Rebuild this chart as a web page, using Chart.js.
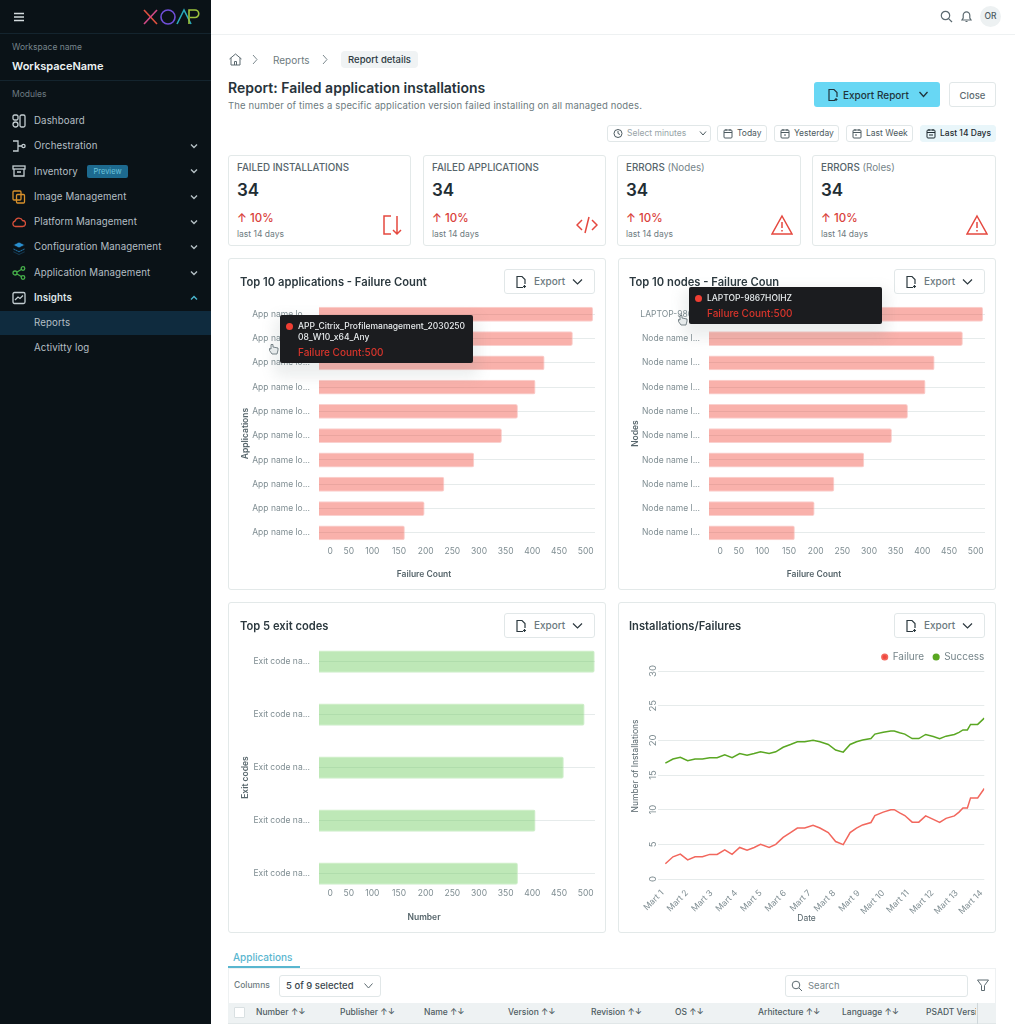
<!DOCTYPE html>
<html>
<head>
<meta charset="utf-8">
<title>Report details</title>
<script src="https://cdn.jsdelivr.net/npm/chart.js@4/dist/chart.umd.min.js"></script>
<style>
html, body { margin: 0; padding: 0; width: 1015px; height: 1024px; overflow: hidden; background: #fff; font-family: Inter, "Noto Sans", sans-serif; color: #1f2a30; }
.abs { position: absolute; white-space: nowrap; }
#sidebar { position: absolute; left: 0; top: 0; width: 211px; height: 1024px; background: #0a1217; }
.side-line { position: absolute; left: 0; width: 211px; height: 1px; background: #14242e; }
.nav { position: absolute; left: 34px; font-size: 9.7px; line-height: 12px; color: #b4bfc4; white-space: nowrap; letter-spacing: .1px; }
.nav-icon { position: absolute; left: 12px; width: 14px; height: 14px; fill: none; stroke: #c3cdd1; stroke-width: 1.3; }
.chev { position: absolute; left: 189px; width: 10px; height: 10px; fill: none; stroke: #b4bfc4; stroke-width: 1.4; }
.card { position: absolute; background: #fff; border: 1px solid #e3e9e9; border-radius: 3px; box-sizing: border-box; }
.stat-title { position: absolute; left: 8px; top: 6px; font-size: 9.8px; color: #56656b; white-space: nowrap; font-weight: 500; }
.stat-title span { font-weight: 400; color: #76858a; }
.stat-num { position: absolute; left: 8px; top: 24px; font-size: 17px; font-weight: 600; color: #222d33; }
.stat-up { position: absolute; left: 8px; top: 55px; font-size: 11.5px; color: #d9403a; font-weight: 500; }
.stat-sub { position: absolute; left: 8px; top: 73px; font-size: 8.5px; color: #6d7b80; }
.stat-icon { position: absolute; right: 7px; bottom: 9px; width: 22px; height: 22px; fill: none; stroke: #e5483f; stroke-width: 1.5; }
.chart-title { position: absolute; font-size: 11.2px; font-weight: 600; color: #2c393f; white-space: nowrap; }
.export { position: absolute; width: 91px; height: 25px; border: 1px solid #e1e7e8; border-radius: 3px; box-sizing: border-box; background: #fff; font-size: 10px; font-weight: 500; color: #6b797e; line-height: 23px; padding-left: 29px; }
.export svg { position: absolute; fill: none; stroke: #2c393f; stroke-width: 1.2; }
.date-btn { position: absolute; top: 125px; height: 17px; border: 1px solid #e1e7e8; border-radius: 3px; box-sizing: border-box; font-size: 8.5px; line-height: 15px; color: #4c5a60; padding-left: 19px; white-space: nowrap; background: #fff; }
.date-btn svg { position: absolute; left: 5px; top: 2px; width: 10px; height: 11px; fill: none; stroke: #4c5a60; stroke-width: 1; }
canvas { position: absolute; }
.tip { position: absolute; background: #1b1c1f; border-radius: 2px; box-sizing: border-box; box-shadow: 0 8px 14px 6px rgba(120,135,135,.14); color: #e8ecee; font-size: 8.5px; line-height: 11px; font-weight: 500; z-index: 5; }
.tip i { position: absolute; width: 7px; height: 7px; border-radius: 50%; background: #ef3e33; }
.tip b { position: absolute; color: #d8352c; font-size: 10px; font-weight: 500; white-space: nowrap; }
.tip span { position: absolute; white-space: nowrap; }
.th { position: absolute; top: 1007px; font-size: 8.5px; color: #4e5c62; white-space: nowrap; font-weight: 500; }
</style>
</head>
<body>

<div id="sidebar">
  <svg class="abs" style="left:13px;top:12px" width="12" height="10" fill="none" stroke="#d4dbde" stroke-width="1.3"><path d="M1 1.5H11M1 5H11M1 8.5H11"/></svg>
  <svg class="abs" style="left:142px;top:8px" width="60" height="18" fill="none" stroke-width="1.6">
    <path d="M2 2L15 16" stroke="#e0503f"/><path d="M15 2L2 16" stroke="#d14a86"/>
    <ellipse cx="26" cy="9" rx="7" ry="7" stroke="#6f4fd8"/>
    <path d="M35 16L42 2L49 16" stroke="#2aa9b8"/>
    <path d="M47 16V2H53A3.6 3.6 0 0 1 53 9.5H48" stroke="#9cc33c"/>
  </svg>
  <div class="side-line" style="top:33px"></div>
  <div class="abs" style="left:12px;top:42px;font-size:8.5px;color:#77858c">Workspace name</div>
  <div class="abs" style="left:12px;top:59px;font-size:11px;font-weight:600;color:#eef2f3">WorkspaceName</div>
  <div class="side-line" style="top:80px"></div>
  <div class="abs" style="left:12px;top:89px;font-size:8.5px;color:#6d7b82">Modules</div>

  <svg class="nav-icon" style="top:114px" viewBox="0 0 14 14"><rect x="1" y="1" width="5" height="5" rx="1.5"/><rect x="1" y="8" width="5" height="5" rx="2.5"/><rect x="8" y="1" width="5" height="12" rx="1.5"/></svg>
  <div class="nav" style="top:115px">Dashboard</div>
  <svg class="nav-icon" style="top:139px" viewBox="0 0 14 14"><path d="M1 2H6V12H1M6 7H10"/><circle cx="11.5" cy="7" r="1.6"/></svg>
  <div class="nav" style="top:140px">Orchestration</div>
  <svg class="chev" style="top:141px" viewBox="0 0 10 10"><path d="M2 3.5L5 6.5L8 3.5"/></svg>
  <svg class="nav-icon" style="top:164px" viewBox="0 0 14 14"><rect x="1" y="2" width="12" height="3"/><path d="M2 5V12H12V5M5 8H9"/></svg>
  <div class="nav" style="top:166px">Inventory</div>
  <div class="abs" style="left:87px;top:165px;width:41px;height:13px;background:#1d6a8f;border-radius:2px;font-size:7.5px;line-height:13px;text-align:center;color:#6cc4dc">Preview</div>
  <svg class="chev" style="top:166px" viewBox="0 0 10 10"><path d="M2 3.5L5 6.5L8 3.5"/></svg>
  <svg class="nav-icon" style="top:190px;stroke:#d9912b" viewBox="0 0 14 14"><rect x="1" y="1" width="8" height="9" rx="1"/><rect x="4.5" y="4.5" width="8" height="8.5" rx="1"/></svg>
  <div class="nav" style="top:191px">Image Management</div>
  <svg class="chev" style="top:192px" viewBox="0 0 10 10"><path d="M2 3.5L5 6.5L8 3.5"/></svg>
  <svg class="nav-icon" style="top:215px;stroke:#d9503a" viewBox="0 0 14 14"><path d="M3.5 11.5A2.8 2.8 0 0 1 3 6A4 4 0 0 1 10.5 5.5A3 3 0 0 1 10.5 11.5Z"/></svg>
  <div class="nav" style="top:216px">Platform Management</div>
  <svg class="chev" style="top:217px" viewBox="0 0 10 10"><path d="M2 3.5L5 6.5L8 3.5"/></svg>
  <svg class="nav-icon" style="top:241px;fill:#2a8fd0;stroke:#0a1217;stroke-width:.8" viewBox="0 0 14 14"><path d="M7 1L13 4L7 7L1 4Z"/><path d="M1 7L7 10L13 7V8.5L7 11.5L1 8.5Z"/><path d="M1 10L7 13L13 10V11L7 14L1 11Z"/></svg>
  <div class="nav" style="top:241px">Configuration Management</div>
  <svg class="chev" style="top:242px" viewBox="0 0 10 10"><path d="M2 3.5L5 6.5L8 3.5"/></svg>
  <svg class="nav-icon" style="top:266px;stroke:#46b04a" viewBox="0 0 14 14"><circle cx="3" cy="7" r="2"/><circle cx="11" cy="2.5" r="1.8"/><circle cx="11" cy="11.5" r="1.8"/><path d="M5 6L9.3 3.5M5 8L9.3 10.5"/></svg>
  <div class="nav" style="top:267px">Application Management</div>
  <svg class="chev" style="top:268px" viewBox="0 0 10 10"><path d="M2 3.5L5 6.5L8 3.5"/></svg>
  <svg class="nav-icon" style="top:291px" viewBox="0 0 14 14"><rect x="1" y="1.5" width="12" height="11" rx="1.5"/><path d="M3 9L6 6L8 7.5L11 4.5"/></svg>
  <div class="nav" style="top:292px;color:#dfe5e8;font-weight:600">Insights</div>
  <svg class="chev" style="top:293px;stroke:#4bb6cf" viewBox="0 0 10 10"><path d="M2 6.5L5 3.5L8 6.5"/></svg>
  <div class="abs" style="left:0;top:311px;width:211px;height:24px;background:#0f2b3e"></div>
  <div class="nav" style="top:317px">Reports</div>
  <div class="nav" style="top:342px">Activitty log</div>
</div>

<!-- top bar -->
<div class="abs" style="left:211px;top:34px;width:804px;height:1px;background:#eef1f2"></div>
<svg class="abs" style="left:940px;top:10px" width="13" height="13" fill="none" stroke="#5c6a70" stroke-width="1.2"><circle cx="5.5" cy="5.5" r="4.2"/><path d="M8.8 8.8L12 12"/></svg>
<svg class="abs" style="left:960px;top:10px" width="13" height="13" fill="none" stroke="#5c6a70" stroke-width="1.2"><path d="M2 10H11L9.8 8V5.2A3.3 3.3 0 0 0 3.2 5.2V8ZM5.5 11.5H7.5"/></svg>
<div class="abs" style="left:980px;top:6px;width:21px;height:21px;border-radius:50%;background:#edf1f2;font-size:8.5px;line-height:21px;text-align:center;color:#4e5c62;font-weight:500">OR</div>

<!-- breadcrumb -->
<svg class="abs" style="left:228px;top:52px" width="15" height="15" fill="none" stroke="#5c6a70" stroke-width="1"><path d="M1.5 7L7.5 2L13.5 7M3 6V13H12V6M6.5 13V9.5H8.5V13"/></svg>
<svg class="abs" style="left:251px;top:54px" width="8" height="11" fill="none" stroke="#7d8a8f" stroke-width="1"><path d="M2 1L6 5.5L2 10"/></svg>
<div class="abs" style="left:273px;top:54px;font-size:10px;color:#6d7b80">Reports</div>
<svg class="abs" style="left:321px;top:54px" width="8" height="11" fill="none" stroke="#7d8a8f" stroke-width="1"><path d="M2 1L6 5.5L2 10"/></svg>
<div class="abs" style="left:341px;top:51px;width:77px;height:17px;background:#f0f3f4;border-radius:4px;font-size:9.5px;line-height:17px;text-align:center;font-weight:500;color:#2c393f">Report details</div>

<div class="abs" style="left:228px;top:79px;font-size:14px;font-weight:600;color:#27333a">Report: Failed application installations</div>
<div class="abs" style="left:228px;top:100px;font-size:9.5px;color:#6d7b80;letter-spacing:.15px">The number of times a specific application version failed installing on all managed nodes.</div>

<div class="abs" style="left:814px;top:82px;width:126px;height:25px;background:#68d7f4;border-radius:3px;font-size:10px;line-height:26px;font-weight:500;color:#20343c;padding-left:29px;box-sizing:border-box">Export Report</div>
<svg class="abs" style="left:827px;top:88px" width="12" height="14" fill="none" stroke="#20343c" stroke-width="1.2"><path d="M8 12.5H2V1.5H7L10 4.5V9M9 10V13M7.5 11.5H10.5"/></svg>
<svg class="abs" style="left:918px;top:90px" width="11" height="9" fill="none" stroke="#20343c" stroke-width="1.3"><path d="M1.5 2L5.5 6.5L9.5 2"/></svg>
<div class="abs" style="left:949px;top:82px;width:47px;height:25px;border:1px solid #e1e7e8;border-radius:3px;box-sizing:border-box;font-size:9.5px;line-height:25px;text-align:center;color:#5c6a70;font-weight:500">Close</div>

<!-- date filters -->
<div class="date-btn" style="left:607px;width:104px;color:#98a4a8"><svg viewBox="0 0 10 11"><circle cx="5" cy="5.5" r="4"/><path d="M5 3V5.5L7 6.5"/></svg>Select minutes<svg style="left:91px;top:4px;width:8px;height:7px" viewBox="0 0 8 7"><path d="M1 1.5L4 5L7 1.5"/></svg></div>
<div class="date-btn" style="left:717px;width:50px"><svg viewBox="0 0 10 11"><rect x="1" y="2" width="8" height="8" rx="1"/><path d="M3 1V3M7 1V3M1 4.5H9"/></svg>Today</div>
<div class="date-btn" style="left:774px;width:65px"><svg viewBox="0 0 10 11"><rect x="1" y="2" width="8" height="8" rx="1"/><path d="M3 1V3M7 1V3M1 4.5H9M4 7H6"/></svg>Yesterday</div>
<div class="date-btn" style="left:846px;width:67px"><svg viewBox="0 0 10 11"><rect x="1" y="2" width="8" height="8" rx="1"/><path d="M3 1V3M7 1V3M1 4.5H9M3 7H5"/></svg>Last Week</div>
<div class="date-btn" style="left:920px;width:76px;background:#e9f6fa;border-color:#e9f6fa;color:#1f2a30;font-weight:500"><svg style="stroke:#1f2a30" viewBox="0 0 10 11"><rect x="1" y="2" width="8" height="8" rx="1"/><path d="M3 1V3M7 1V3M1 4.5H9M3 7H7"/></svg>Last 14 Days</div>

<!-- stat cards -->
<div class="card" style="left:228px;top:155px;width:183px;height:91px">
  <div class="stat-title">FAILED INSTALLATIONS</div><div class="stat-num">34</div><div class="stat-up">↑ 10%</div><div class="stat-sub">last 14 days</div>
  <svg class="stat-icon" viewBox="0 0 22 22"><path d="M10 2H3V20H10M16 2V20M12 16L16 20L20 16"/></svg>
</div>
<div class="card" style="left:423px;top:155px;width:183px;height:91px">
  <div class="stat-title">FAILED APPLICATIONS</div><div class="stat-num">34</div><div class="stat-up">↑ 10%</div><div class="stat-sub">last 14 days</div>
  <svg class="stat-icon" viewBox="0 0 22 22"><path d="M6 6L1 11L6 16M16 6L21 11L16 16M13 3L9 19"/></svg>
</div>
<div class="card" style="left:617px;top:155px;width:184px;height:91px">
  <div class="stat-title">ERRORS <span>(Nodes)</span></div><div class="stat-num">34</div><div class="stat-up">↑ 10%</div><div class="stat-sub">last 14 days</div>
  <svg class="stat-icon" viewBox="0 0 22 22"><path d="M11 2L21 20H1ZM11 8V14M11 16V17.5"/></svg>
</div>
<div class="card" style="left:812px;top:155px;width:184px;height:91px">
  <div class="stat-title">ERRORS <span>(Roles)</span></div><div class="stat-num">34</div><div class="stat-up">↑ 10%</div><div class="stat-sub">last 14 days</div>
  <svg class="stat-icon" viewBox="0 0 22 22"><path d="M11 2L21 20H1ZM11 8V14M11 16V17.5"/></svg>
</div>

<!-- chart cards -->
<div class="card" style="left:228px;top:258px;width:378px;height:332px"></div>
<div class="card" style="left:618px;top:258px;width:378px;height:332px"></div>
<div class="card" style="left:228px;top:602px;width:378px;height:331px"></div>
<div class="card" style="left:618px;top:602px;width:378px;height:331px"></div>

<canvas id="appsChart" style="left:229px;top:288px" width="376" height="301"></canvas>
<canvas id="nodesChart" style="left:619px;top:288px" width="376" height="301"></canvas>
<canvas id="exitChart" style="left:229px;top:621px" width="376" height="311"></canvas>
<canvas id="lineChart" style="left:619px;top:634px" width="376" height="298"></canvas>

<div class="chart-title" style="left:240px;top:275px">Top 10 applications - Failure Count</div>
<div class="chart-title" style="left:629px;top:275px">Top 10 nodes - Failure Coun</div>
<div class="chart-title" style="left:240px;top:619px">Top 5 exit codes</div>
<div class="chart-title" style="left:629px;top:619px">Installations/Failures</div>

<div class="export" style="left:504px;top:269px"><svg style="left:10px;top:5px" width="13" height="14"><path d="M8 12.5H2V1.5H7L10 4.5V9M9.5 10V13M8 11.5H11"/></svg>Export<svg style="left:67px;top:8px" width="11" height="8"><path d="M1 1.5L5.5 6L10 1.5"/></svg></div>
<div class="export" style="left:894px;top:269px"><svg style="left:10px;top:5px" width="13" height="14"><path d="M8 12.5H2V1.5H7L10 4.5V9M9.5 10V13M8 11.5H11"/></svg>Export<svg style="left:67px;top:8px" width="11" height="8"><path d="M1 1.5L5.5 6L10 1.5"/></svg></div>
<div class="export" style="left:504px;top:613px"><svg style="left:10px;top:5px" width="13" height="14"><path d="M8 12.5H2V1.5H7L10 4.5V9M9.5 10V13M8 11.5H11"/></svg>Export<svg style="left:67px;top:8px" width="11" height="8"><path d="M1 1.5L5.5 6L10 1.5"/></svg></div>
<div class="export" style="left:894px;top:613px"><svg style="left:10px;top:5px" width="13" height="14"><path d="M8 12.5H2V1.5H7L10 4.5V9M9.5 10V13M8 11.5H11"/></svg>Export<svg style="left:67px;top:8px" width="11" height="8"><path d="M1 1.5L5.5 6L10 1.5"/></svg></div>

<!-- hover tooltips from the reference -->
<div class="tip" style="left:280px;top:315px;width:193px;height:48px">
  <i style="left:6px;top:8px"></i>
  <span style="left:18px;top:6px">APP_Citrix_Profilemanagement_2030250<br>08_W10_x64_Any</span>
  <b style="left:18px;top:32px">Failure Count:500</b>
</div>
<div class="tip" style="left:689px;top:287px;width:193px;height:37px">
  <i style="left:6px;top:8px"></i>
  <span style="left:18px;top:6px">LAPTOP-9867HOIHZ</span>
  <b style="left:18px;top:21px">Failure Count:500</b>
</div>
<svg class="abs" style="left:268px;top:343px;z-index:6" width="11" height="12" fill="#e6eaeb" stroke="#5c6a70" stroke-width=".8"><path d="M3 1.5V6L1.5 5.5V7.5L4 11H9L10 7V5L5 4V1.5Z"/></svg>
<svg class="abs" style="left:677px;top:314px;z-index:6" width="11" height="12" fill="#e6eaeb" stroke="#5c6a70" stroke-width=".8"><path d="M3 1.5V6L1.5 5.5V7.5L4 11H9L10 7V5L5 4V1.5Z"/></svg>

<!-- applications table -->
<div class="abs" style="left:233px;top:951px;font-size:10px;color:#59b6cf;font-weight:500">Applications</div>
<div class="abs" style="left:228px;top:966px;width:72px;height:2px;background:#59b6cf"></div>
<div class="abs" style="left:228px;top:968px;width:768px;height:56px;border:1px solid #eef1f2;border-bottom:0;box-sizing:border-box"></div>
<div class="abs" style="left:234px;top:980px;font-size:8.5px;color:#6d7b80;font-weight:500">Columns</div>
<div class="abs" style="left:279px;top:975px;width:102px;height:22px;border:1px solid #e1e7e8;border-radius:3px;box-sizing:border-box;font-size:9.5px;line-height:20px;padding-left:6px;color:#39464c;font-weight:500">5 of 9 selected</div>
<svg class="abs" style="left:363px;top:982px" width="11" height="8" fill="none" stroke="#5c6a70"><path d="M1.5 1.5L5.5 6L9.5 1.5"/></svg>
<div class="abs" style="left:785px;top:975px;width:183px;height:22px;border:1px solid #e1e7e8;border-radius:3px;box-sizing:border-box;font-size:9.5px;line-height:20px;padding-left:22px;color:#76858a">Search</div>
<svg class="abs" style="left:791px;top:980px" width="12" height="12" fill="none" stroke="#5c6a70"><circle cx="5" cy="5" r="3.8"/><path d="M8 8L11 11"/></svg>
<svg class="abs" style="left:976px;top:978px" width="14" height="14" fill="none" stroke="#5c6a70"><path d="M1.5 2H12.5L8.5 7.5V12.5H5.5V7.5Z"/></svg>
<div class="abs" style="left:228px;top:1003px;width:768px;height:21px;background:#eef2f3;border-bottom:1px solid #e1e7e8;box-sizing:border-box"></div>
<div class="abs" style="left:234px;top:1007px;width:11px;height:11px;background:#fff;border:1px solid #d9e0e2;box-sizing:border-box;border-radius:1px"></div>
<div class="th" style="left:256px">Number ↑↓</div>
<div class="th" style="left:340px">Publisher ↑↓</div>
<div class="th" style="left:424px">Name ↑↓</div>
<div class="th" style="left:508px">Version ↑↓</div>
<div class="th" style="left:591px">Revision ↑↓</div>
<div class="th" style="left:675px">OS ↑↓</div>
<div class="th" style="left:758px">Arhitecture ↑↓</div>
<div class="th" style="left:842px">Language ↑↓</div>
<div class="th" style="left:926px;width:50px;overflow:hidden">PSADT Version</div>
<div class="abs" style="left:977px;top:1003px;width:1px;height:21px;background:#cfd7da"></div>

<script>
// Values
const appLabels = ['App name lo...', 'App name lo...', 'App name lo...', 'App name lo...', 'App name lo...', 'App name lo...', 'App name lo...', 'App name lo...', 'App name lo...', 'App name lo...'];
const appFailures = [514, 476, 423, 406, 373, 343, 291, 235, 198, 161];

const nodeLabels = ['LAPTOP-986...', 'Node name l...', 'Node name l...', 'Node name l...', 'Node name l...', 'Node name l...', 'Node name l...', 'Node name l...', 'Node name l...', 'Node name l...'];
const nodeFailures = [514, 476, 423, 406, 373, 343, 291, 235, 198, 161];

const exitLabels = ['Exit code na...', 'Exit code na...', 'Exit code na...', 'Exit code na...', 'Exit code na...'];
const exitCounts = [517, 498, 459, 406, 373];

// the 0 and 50 labels sit to the right of their true place in the reference
const countTickLabels = ['0', '50', '100', '150', '200', '250', '300', '350', '400', '450', '500'];
const countTickSpots = [21, 56, 100, 150, 200, 250, 300, 350, 400, 450, 500];

const lineDays = [1.00, 1.31, 1.61, 1.91, 2.21, 2.51, 2.81, 3.11, 3.42, 3.72, 4.03, 4.33, 4.62, 4.88, 5.23, 5.50, 5.80, 6.10, 6.38, 6.68, 7.02, 7.30, 7.64, 7.94, 8.25, 8.53, 8.79, 9.04, 9.38, 9.54, 9.88, 10.19, 10.33, 10.55, 10.76, 11.06, 11.33, 11.61, 11.92, 12.18, 12.44, 12.78, 12.97, 13.13, 13.31, 13.44, 13.73, 14.00];
const failureValues = [2.2, 3.2, 3.6, 2.75, 3.2, 3.2, 3.55, 3.55, 4.2, 3.55, 4.55, 4.15, 4.55, 5, 4.55, 5, 6, 6.7, 7.35, 7.35, 7.75, 7.35, 6.7, 5.4, 4.95, 6.7, 7.35, 7.8, 8.15, 9.15, 9.65, 10, 10, 9.55, 9.15, 8.2, 8.2, 9.1, 8.6, 8.15, 8.75, 9.1, 9.65, 10.25, 10.25, 11.7, 11.7, 13.05];
const successValues = [16.7, 17.3, 17.55, 17.05, 17.3, 17.3, 17.5, 17.5, 17.9, 17.5, 18.1, 17.85, 18.1, 18.35, 18.1, 18.35, 19, 19.4, 19.8, 19.8, 20, 19.8, 19.4, 18.6, 18.3, 19.4, 19.8, 20.05, 20.25, 20.9, 21.15, 21.35, 21.35, 21.1, 20.9, 20.25, 20.25, 20.85, 20.55, 20.25, 20.6, 20.85, 21.15, 21.5, 21.5, 22.3, 22.3, 23.2];
const dayTickValues = [1, 2, 3, 4, 5, 6, 7, 8, 9, 10, 11, 12, 13, 14];
const dayTickLabels = ['Mart 1', 'Mart 2', 'Mart 3', 'Mart 4', 'Mart 5', 'Mart 6', 'Mart 7', 'Mart 8', 'Mart 9', 'Mart 10', 'Mart 11', 'Mart 12', 'Mart 13', 'Mart 14'];

const tickColor = '#7f8d92';
const titleColor = '#56656b';
const gridColor = '#e6ebeb';

Chart.defaults.font.family = 'Inter, "Noto Sans", sans-serif';
Chart.defaults.animation = false;
Chart.defaults.responsive = false;

// Axis titles and the legend in the reference are off from where Chart.js puts them, so shift them
const titleNudge = {
    id: 'titleNudge',
    afterLayout(chart, args, opts) {
        Object.keys(opts.shift || {}).forEach(id => {
            const scale = chart.scales[id];
            const shift = opts.shift[id];
            const drawTitle = scale.constructor.prototype.drawTitle;
            scale.drawTitle = function() {
                this.ctx.save();
                this.ctx.translate(shift[0], shift[1]);
                drawTitle.call(this);
                this.ctx.restore();
            };
        });
        if (opts.legendShift) {
            const legend = chart.legend;
            const drawLegend = legend.constructor.prototype.draw;
            legend.draw = function() {
                this.ctx.save();
                this.ctx.translate(opts.legendShift[0], opts.legendShift[1]);
                drawLegend.call(this);
                this.ctx.restore();
            };
        }
    }
};

// Function to create one of the horizontal bar charts
function createBarChart(canvasId, labels, values, color, border, xTitle, yTitle, barPct, bottom, tickPad, mirror) {
    const ctx = document.getElementById(canvasId).getContext('2d');
    return new Chart(ctx, {
        type: 'bar',
        plugins: [titleNudge],
        data: {
            labels: labels,
            datasets: [{
                label: xTitle,
                data: values,
                backgroundColor: color,
                borderColor: border,
                borderWidth: 1,
                borderRadius: 2,
                borderSkipped: 'left',
                categoryPercentage: 1,
                barPercentage: barPct
            }]
        },
        options: {
            indexAxis: 'y',
            layout: { padding: { top: 3, right: 10, bottom: 0, left: 0 } },
            plugins: {
                legend: { display: false },
                tooltip: { enabled: false },
                titleNudge: { shift: { x: [-33, -5.5], y: [7, 10] } }
            },
            scales: {
                x: {
                    type: 'linear',
                    min: 0,
                    max: 517.5,
                    afterBuildTicks: axis => { axis.ticks = countTickSpots.map(v => ({ value: v })); },
                    afterFit: axis => { axis.height = bottom; },
                    grid: { display: false, drawTicks: false },
                    border: { display: false },
                    ticks: {
                        autoSkip: false,
                        maxRotation: 0,
                        mirror: mirror,
                        padding: tickPad,
                        color: tickColor,
                        font: { size: 8.5 },
                        callback: (value, index) => countTickLabels[index]
                    },
                    title: { display: true, text: xTitle, color: titleColor, font: { size: 8.5, weight: '600' } }
                },
                y: {
                    afterFit: axis => { axis.width = 90; },
                    grid: { color: gridColor, drawTicks: false, offset: false },
                    border: { display: false },
                    ticks: { padding: 9, color: tickColor, font: { size: 8.5 } },
                    title: { display: true, text: yTitle, color: titleColor, font: { size: 8.5, weight: '600' } }
                }
            }
        }
    });
}

// Function to create the installations line chart
function createLineChart() {
    const ctx = document.getElementById('lineChart').getContext('2d');
    return new Chart(ctx, {
        type: 'line',
        plugins: [titleNudge],
        data: {
            datasets: [
                {
                    label: 'Failure',
                    data: lineDays.map((d, i) => ({ x: d, y: failureValues[i] })),
                    borderColor: '#f2675d',
                    backgroundColor: '#f0483e',
                    borderWidth: 1.5,
                    pointRadius: 0,
                    tension: 0
                },
                {
                    label: 'Success',
                    data: lineDays.map((d, i) => ({ x: d, y: successValues[i] })),
                    borderColor: '#5aa723',
                    backgroundColor: '#58a81f',
                    borderWidth: 1.5,
                    pointRadius: 0,
                    tension: 0
                }
            ]
        },
        options: {
            layout: { padding: { top: 8, right: 10.7, bottom: 0, left: 0 } },
            plugins: {
                tooltip: { enabled: false },
                titleNudge: { shift: { x: [-14.6, -4], y: [7, -9] }, legendShift: [9, 1] },
                legend: {
                    align: 'end',
                    labels: {
                        usePointStyle: true,
                        pointStyle: 'circle',
                        boxWidth: 6,
                        boxHeight: 4,
                        padding: 9,
                        color: '#76858a',
                        font: { size: 10 }
                    }
                }
            },
            scales: {
                x: {
                    type: 'linear',
                    min: 0.7,
                    max: 14,
                    afterBuildTicks: axis => { axis.ticks = dayTickValues.map(v => ({ value: v })); },
                    // the rotated last label must not pull the plot in from the right
                    afterFit: axis => { axis.height = 53; axis.paddingRight = 0; },
                    grid: { display: false, drawTicks: false },
                    border: { display: false },
                    ticks: {
                        autoSkip: false,
                        minRotation: 45,
                        maxRotation: 45,
                        padding: 9,
                        labelOffset: -3,
                        color: tickColor,
                        font: { size: 8.5 },
                        callback: (value, index) => dayTickLabels[index]
                    },
                    title: { display: true, text: 'Date', color: titleColor, font: { size: 8.5 } }
                },
                y: {
                    min: 0,
                    max: 30,
                    afterFit: axis => { axis.width = 39; },
                    grid: { color: gridColor, drawTicks: false },
                    border: { display: false },
                    ticks: {
                        stepSize: 5,
                        minRotation: 90,
                        maxRotation: 90,
                        crossAlign: 'center',
                        padding: -1,
                        color: tickColor,
                        font: { size: 9.5 }
                    },
                    title: { display: true, text: 'Number of Installations', color: titleColor, font: { size: 8.5 } }
                }
            }
        }
    });
}

createBarChart('appsChart', appLabels, appFailures, 'rgba(240, 68, 56, 0.42)', 'rgba(248, 190, 186, 0.7)', 'Failure Count', 'Applications', 0.61, 44, 1, false);
createBarChart('nodesChart', nodeLabels, nodeFailures, 'rgba(240, 68, 56, 0.42)', 'rgba(248, 190, 186, 0.7)', 'Failure Count', 'Nodes', 0.61, 44, 1, false);
createBarChart('exitChart', exitLabels, exitCounts, 'rgba(110, 205, 95, 0.45)', 'rgba(190, 232, 183, 0.7)', 'Number', 'Exit codes', 0.42, 32, 1, true);
createLineChart();
</script>
</body>
</html>
